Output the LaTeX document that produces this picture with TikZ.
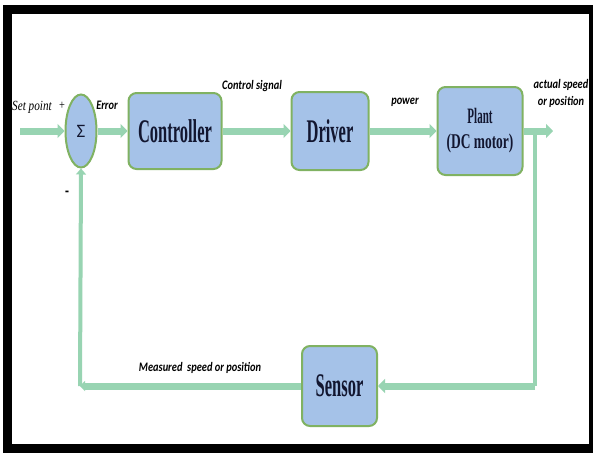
\documentclass[tikz,border=0pt]{standalone}
\usepackage{fontspec}
\usepackage{xcolor}
\usepackage{tikz}
\usetikzlibrary{shapes.geometric,arrows.meta,positioning,calc}

\newfontfamily\blockfont[FakeStretch=0.5]{Liberation Serif}
\newfontfamily\plantfont[FakeStretch=0.64]{Liberation Serif}
\newfontfamily\lblfont[FakeStretch=0.8]{Carlito}
\newfontfamily\spfont[FakeStretch=0.8]{Liberation Serif}
\newfontfamily\sigmafont{Carlito}

\definecolor{boxblue}{RGB}{165,194,232}
\definecolor{boxgreen}{RGB}{128,178,98}
\definecolor{pipegreen}{RGB}{152,212,178}
\definecolor{navytext}{RGB}{18,22,48}

\begin{document}
\begin{tikzpicture}[x=1pt, y=-1pt, node distance=30pt,
    block/.style={rectangle, rounded corners=8pt, draw=boxgreen, line width=2pt, fill=boxblue,
        text=navytext, font=\blockfont\bfseries\fontsize{33}{34}\selectfont},
    pipe/.style={line width=7pt, draw=pipegreen, -{Triangle[length=7pt,width=14pt]}},
    thinpipe/.style={line width=4pt, draw=pipegreen},
    lbl/.style={font=\lblfont\bfseries\itshape\fontsize{13}{15}\selectfont, text=black}]

    \useasboundingbox (0,0) rectangle (593,453);
    % black frame
    \fill[black] (3,5) rectangle (593,453);
    \fill[white] (12,14) rectangle (589,444);

    \node[ellipse, draw=boxgreen, line width=2pt, fill=boxblue, minimum width=31pt, minimum height=73pt,
        inner sep=0pt, text=navytext, font=\sigmafont\fontsize{19}{20}\selectfont] (sum) at (81,131) {Σ};
    \node[block, minimum width=93pt, minimum height=76pt, right=30pt of sum] (ctrl) {Controller};
    \node[block, minimum width=77pt, minimum height=78pt, right=68pt of ctrl] (drv) {Driver};
    \node[block, minimum width=85pt, minimum height=88pt, right=67pt of drv, align=center,
        font=\plantfont\bfseries\fontsize{21}{22}\selectfont] (plant)
        {{\blockfont\fontsize{22}{22}\selectfont Plant}\\[3pt](DC motor)};
    \node[block, minimum width=75pt, minimum height=80pt] (sens) at (339.5,386) {Sensor};

    \coordinate (in) at (20,131);
    \coordinate (out) at (553,131);
    \coordinate (tap) at (535,131);
    \coordinate (fbR) at (535,386);
    \coordinate (fbL) at (80,386);

    \draw[pipe] (in) -- (sum);
    \draw[pipe] (sum) -- (ctrl);
    \draw[pipe] (ctrl) -- (drv);
    \draw[pipe] (drv) -- (plant);
    \draw[pipe] (plant) -- (out);
    \draw[thinpipe] (tap) -- (fbR);
    \draw[pipe] (fbR) -- (sens);
    \draw[pipe, -{Triangle[length=5pt,width=10pt]}] (sens) -- (fbL);
    \draw[thinpipe, -{Triangle[length=6pt,width=10pt]}] (fbL) -- (sum.south);

    \node[font=\spfont\itshape\fontsize{14}{15}\selectfont] (sp) at (32,107) {Set point};
    \node[font=\spfont\fontsize{13}{14}\selectfont] (plus) at (62,106) {+};
    \node[lbl, font=\lblfont\bfseries\fontsize{16}{16}\selectfont] (minus) at (67,194) {-};
    \node[lbl] (err) at (107,105) {Error};
    \node[lbl] (csig) at (252,86) {Control signal};
    \node[lbl] (pow) at (405,102) {power};
    \node[lbl, align=center] (act) at (561,93) {actual speed\\[2pt]or position};
    \node[lbl] (meas) at (200,368) {Measured\ \ speed or position};
\end{tikzpicture}
\end{document}
